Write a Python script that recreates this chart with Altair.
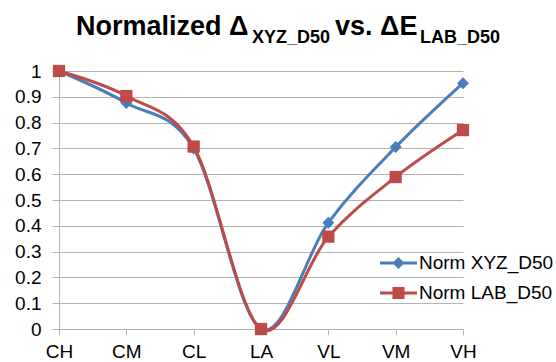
import altair as alt
import pandas as pd

# Categories along the x axis and the two normalized series
categories = ["CH", "CM", "CL", "LA", "VL", "VM", "VH"]
norm_xyz = [1.0, 0.876, 0.700, 0.0, 0.412, 0.705, 0.953]
norm_lab = [1.0, 0.903, 0.707, 0.0, 0.358, 0.589, 0.771]
series_names = ["Norm XYZ_D50", "Norm LAB_D50"]
y_ticks = [0, 0.1, 0.2, 0.3, 0.4, 0.5, 0.6, 0.7, 0.8, 0.9, 1]

BLUE = "#4A7EBB"
RED = "#BE4B48"
GRID = "#B4B4B4"
FONT = "Liberation Sans"

rows = []
for name, vals in zip(series_names, [norm_xyz, norm_lab]):
    for c, v in zip(categories, vals):
        rows.append({"cat": c, "value": v, "series": name})
df = pd.DataFrame(rows)

x_enc = alt.X(
    "cat:N",
    sort=categories,
    scale=alt.Scale(type="point", padding=0),
    axis=alt.Axis(
        title=None, labelAngle=0, labelFont=FONT, labelFontSize=19,
        labelColor="black", labelPadding=7, tickSize=6, tickColor=GRID,
        domainColor=GRID, grid=False,
    ),
)
y_enc = alt.Y(
    "value:Q",
    scale=alt.Scale(domain=[0, 1], nice=False),
    axis=alt.Axis(
        title=None, values=y_ticks, format="~g", labelFont=FONT,
        labelFontSize=19, labelColor="black", labelPadding=11, tickSize=7,
        tickColor=GRID, domainColor=GRID, gridColor=GRID, grid=True,
    ),
)

base = alt.Chart(df).encode(x=x_enc, y=y_enc)


def series_layers(name, color, shape, size):
    sub = base.transform_filter(alt.datum.series == name)
    line = sub.mark_line(color=color, strokeWidth=3, interpolate="cardinal")
    pts = sub.mark_point(shape=shape, filled=True, size=size, color=color,
                         opacity=1, strokeWidth=0)
    return [line, pts]


# Legend glyphs: a short line with the series marker on it
line_part = "M-1.68,-0.136L1.68,-0.136L1.68,0.136L-1.68,0.136Z"
diamond_glyph = line_part + "M0,-0.55L0.55,0L0,0.55L-0.55,0Z"
square_glyph = line_part + "M-0.55,-0.55L0.55,-0.55L0.55,0.55L-0.55,0.55Z"

legend_cfg = dict(
    title=None, orient="none", legendX=328.5, legendY=181, padding=0,
    symbolSize=484, symbolStrokeWidth=0, labelFont=FONT, labelFontSize=19,
    labelColor="black", labelOffset=9.5, rowPadding=9, labelLimit=300,
)
legend_layer = alt.Chart(df).transform_filter("false").mark_point(
    filled=True, opacity=1
).encode(
    color=alt.Color("series:N", scale=alt.Scale(domain=series_names, range=[BLUE, RED]),
                    legend=alt.Legend(**legend_cfg)),
    shape=alt.Shape("series:N", scale=alt.Scale(domain=series_names,
                                                range=[diamond_glyph, square_glyph]),
                    legend=alt.Legend(**legend_cfg)),
)


def title_piece(text, x, y, size):
    return alt.Chart(pd.DataFrame({"t": [text]})).mark_text(
        font=FONT, fontSize=size, fontWeight="bold", color="black",
        align="left", baseline="alphabetic",
    ).encode(x=alt.value(x), y=alt.value(y), text="t:N")


title_layers = [
    title_piece("Normalized Δ", 17, -36, 27),
    title_piece("XYZ_D50", 193, -28, 18),
    title_piece("vs. ΔE", 276, -36, 27),
    title_piece("LAB_D50", 361, -28, 18),
]

chart = alt.layer(
    *series_layers(series_names[0], BLUE, "diamond", 144),
    *series_layers(series_names[1], RED, "square", 150),
    legend_layer,
    *title_layers,
).properties(
    width=404,
    height=258,
    padding={"left": 59, "top": 71, "right": 93, "bottom": 33},
    autosize="none",
    background="white",
).configure_view(stroke=None)

chart.save("out.html", embed_options={"renderer": "svg", "actions": False})
